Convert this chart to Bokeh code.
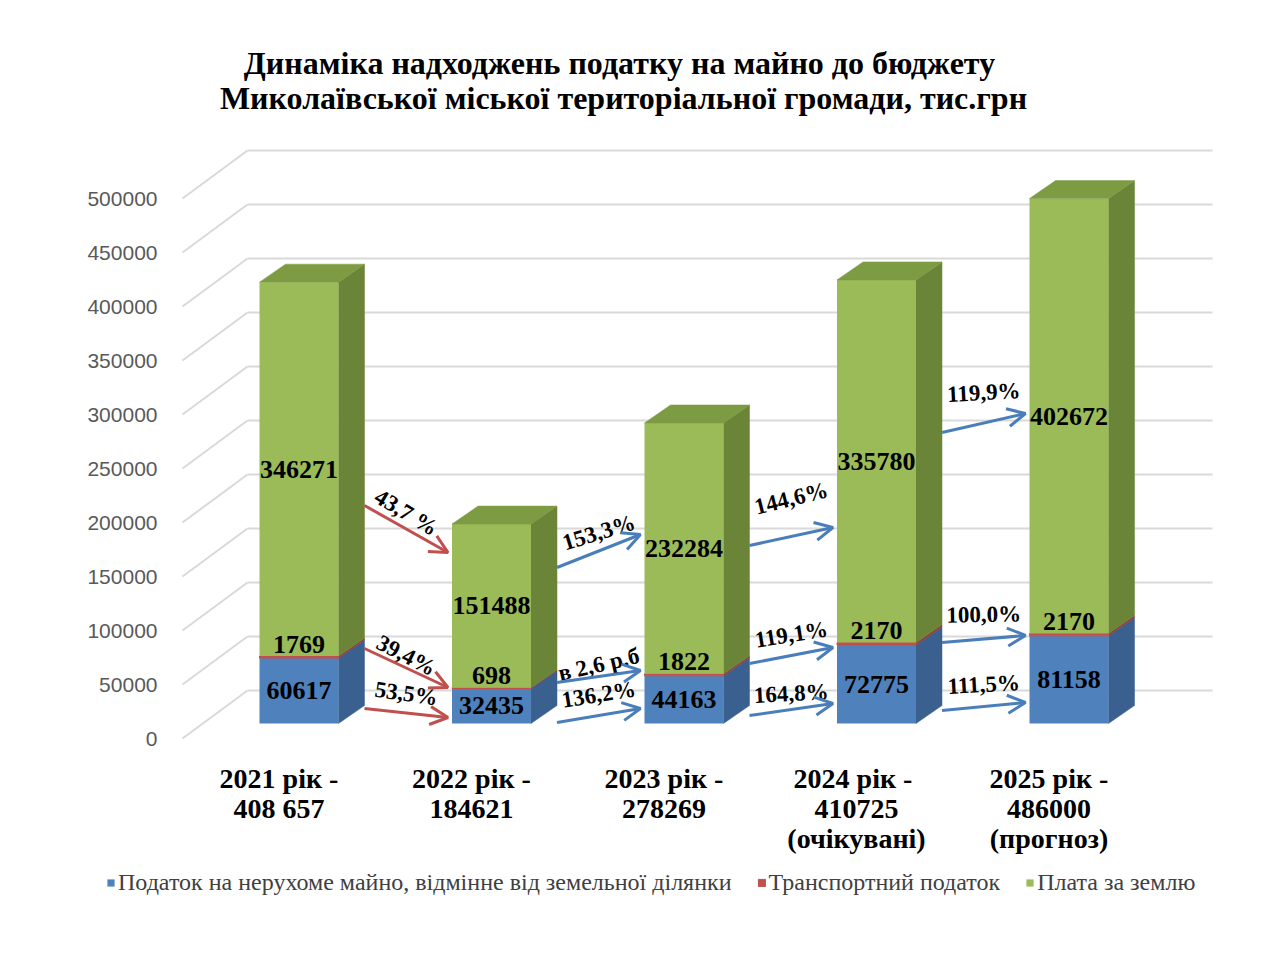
import numpy as np
from bokeh.plotting import figure
from bokeh.models import (ColumnDataSource, Range1d, FixedTicker, PrintfTickFormatter,
                          Legend, LegendItem, Arrow, OpenHead, Label)
from bokeh.core.properties import value
from bokeh.embed import file_html
from bokeh.resources import INLINE

# ---------------- data ----------------
categories = [
    "2021 рік -\n408 657",
    "2022 рік -\n184621",
    "2023 рік -\n278269",
    "2024 рік  -\n410725\n(очікувані)",
    "2025 рік -\n486000\n(прогноз)",
]
property_tax = [60617, 32435, 44163, 72775, 81158]     # Податок на нерухоме майно
transport_tax = [1769, 698, 1822, 2170, 2170]           # Транспортний податок
land_fee = [346271, 151488, 232284, 335780, 402672]     # Плата за землю
series_names = [
    "Податок на нерухоме майно, відмінне від земельної ділянки",
    "Транспортний податок",
    "Плата за землю",
]
y_ticks = [0, 50000, 100000, 150000, 200000, 250000, 300000, 350000, 400000, 450000, 500000]
title_lines = ["Динаміка надходжень податку на майно до бюджету",
               "Миколаївської міської територіальної громади, тис.грн"]

# growth annotations between neighbouring years
arrow_from = [0, 0, 0, 1, 1, 1, 2, 2, 2, 3, 3, 3]
arrow_labels = ["43,7 %", "39,4%", "53,5%", "153,3%", "в 2,6 р.б", "136,2%",
                "144,6%", "119,1%", "164,8%", "119,9%", "100,0%", "111,5%"]
arrow_kind = ["down", "down", "down", "up", "up", "up", "up", "up", "up", "up", "up", "up"]

# annotation layout (positions in axis units, angles in degrees)
arrow_y_start = [215741, 83333, 27778, 158333, 51852, 14815, 178704, 69444, 21296, 283333, 88889, 25926]
arrow_y_end = [172222, 47222, 19444, 188889, 62963, 27778, 195370, 84259, 32407, 300926, 95370, 33333]
arrow_label_y = [209259, 76852, 41667, 190741, 68519, 40741, 222222, 96296, 41667, 320370, 114815, 50000]
arrow_label_angle = [-31, -27, -8, 17, 13, 9, 14, 9, 3, 3, 1, 3]

# ---------------- geometry (pseudo-3D) ----------------
PX_X = 192.5        # pixels per category unit
PX_Y = 0.00108      # pixels per value unit


def px_x(px):
    return px / PX_X


def px_y(px):
    return px / PX_Y


FIG_W, FIG_H = 1265, 937
FRAME_L, FRAME_R, FRAME_T, FRAME_B = 90, 1265, 0, 905
CAT1_PX, ZERO_PX = 278.5, 738          # first category centre / zero line on screen

BAR_HALF = px_x(39.5)
FRONT_DX, FRONT_DY = px_x(20), px_y(15)
SIDE_DX, SIDE_DY = px_x(26), px_y(18)
WALL_DX, WALL_DY = px_x(65), px_y(48)
WALL_LEFT = 1 - px_x(96.5)
WALL_RIGHT = 1 + px_x(933.5)

x_start = 1 - px_x(CAT1_PX - FRAME_L)
x_end = x_start + px_x(FRAME_R - FRAME_L)
y_start = -px_y(FRAME_B - ZERO_PX)
y_end = y_start + px_y(FRAME_B - FRAME_T)

n = len(categories)
xc = np.arange(1, n + 1, dtype=float)
fx = xc + FRONT_DX
prop = np.array(property_tax, dtype=float)
trans = np.array(transport_tax, dtype=float)
land = np.array(land_fee, dtype=float)
total = prop + trans + land

bottoms = [np.zeros(n), prop, prop + trans]
tops = [prop, prop + trans, total]
front_colors = ["#4F81BD", "#C0504D", "#9BBB59"]
side_colors = ["#3A6090", "#953D3A", "#6B8538"]
top_color = "#7C9B43"

p = figure(width=FIG_W, height=FIG_H,
           x_range=Range1d(x_start, x_end), y_range=Range1d(y_start, y_end),
           output_backend="svg", toolbar_location=None,
           min_border_left=FRAME_L, min_border_right=FIG_W - FRAME_R,
           min_border_top=FRAME_T, min_border_bottom=FIG_H - FRAME_B)
p.outline_line_color = None
p.grid.visible = False
p.background_fill_color = "white"
p.border_fill_color = "white"

# title (two centred lines)
for line, (cx_px, cy_px) in zip(title_lines, [(619, 62), (623, 97)]):
    p.add_layout(Label(x=x_start + px_x(cx_px - FRAME_L), y=y_start + px_y(FRAME_B - cy_px),
                       text=line, text_align="center", text_baseline="middle",
                       text_font="Liberation Serif", text_font_size="32px",
                       text_font_style="bold", text_color="black"))

# walls / grid
gy = np.array(y_ticks, dtype=float)
p.segment(x0=[WALL_LEFT] * len(gy), y0=gy, x1=[WALL_LEFT + WALL_DX] * len(gy), y1=gy + WALL_DY,
          line_color="#D9D9D9", line_width=2)
p.segment(x0=[WALL_LEFT + WALL_DX] * len(gy), y0=gy + WALL_DY, x1=[WALL_RIGHT] * len(gy), y1=gy + WALL_DY,
          line_color="#D9D9D9", line_width=2)

# bars
front_renderers = []
for k in range(3):
    b = bottoms[k] + FRONT_DY
    t = tops[k] + FRONT_DY
    xr = fx + BAR_HALF
    side_xs = [[a, a + SIDE_DX, a + SIDE_DX, a] for a in xr]
    side_ys = [[bb, bb + SIDE_DY, tt + SIDE_DY, tt] for bb, tt in zip(b, t)]
    p.patches(xs=side_xs, ys=side_ys, fill_color=side_colors[k], line_color=side_colors[k], line_width=0.5)
    r = p.quad(left=fx - BAR_HALF, right=fx + BAR_HALF, bottom=b, top=t,
               fill_color=front_colors[k],
               line_color=front_colors[k] if k == 1 else None, line_width=1)
    front_renderers.append(r)

tt = total + FRONT_DY
xl = fx - BAR_HALF
xr = fx + BAR_HALF
top_xs = [[a, a + SIDE_DX, c + SIDE_DX, c] for a, c in zip(xl, xr)]
top_ys = [[v, v + SIDE_DY, v + SIDE_DY, v] for v in tt]
p.patches(xs=top_xs, ys=top_ys, fill_color=top_color, line_color=top_color, line_width=0.5)

# data labels
lab_src = ColumnDataSource(dict(
    x=np.concatenate([fx, fx, fx]),
    y=np.concatenate([prop / 2 + FRONT_DY,
                      prop + trans + FRONT_DY + px_y(12),
                      prop + trans + land / 2 + FRONT_DY]),
    text=[str(int(v)) for v in np.concatenate([prop, trans, land])],
))
p.text(x="x", y="y", text="text", source=lab_src,
       text_font=value("Liberation Serif"), text_font_style="bold",
       text_font_size="26px", text_align="center", text_baseline="middle",
       text_color="black")

# growth arrows
colors = {"down": "#C0504D", "up": "#4A7EBB"}
ax_mid = []
for i, j in enumerate(arrow_from):
    x0 = fx[j] + BAR_HALF + SIDE_DX
    x1 = fx[j + 1] - BAR_HALF - px_x(4)
    c = colors[arrow_kind[i]]
    p.add_layout(Arrow(end=OpenHead(size=18, line_color=c, line_width=3),
                       x_start=x0, y_start=arrow_y_start[i], x_end=x1, y_end=arrow_y_end[i],
                       line_color=c, line_width=3))
    ax_mid.append((x0 + x1) / 2)

pct_src = ColumnDataSource(dict(x=ax_mid, y=arrow_label_y, text=arrow_labels, angle=arrow_label_angle))
p.text(x="x", y="y", text="text", angle="angle", angle_units="deg", source=pct_src,
       text_font=value("Liberation Serif"), text_font_style="bold",
       text_font_size="23px", text_align="center", text_baseline="middle",
       text_color="black")

# axes (labels pulled in next to the pseudo-3D walls)
p.yaxis.ticker = FixedTicker(ticks=y_ticks)
p.yaxis.formatter = PrintfTickFormatter(format="%d")
p.yaxis.axis_line_color = None
p.yaxis.major_tick_line_color = None
p.yaxis.minor_tick_line_color = None
p.yaxis.major_tick_out = 0
p.yaxis.major_label_standoff = FRAME_L - 157
p.yaxis.major_label_text_font = "Liberation Sans"
p.yaxis.major_label_text_font_size = "21px"
p.yaxis.major_label_text_color = "#595959"

p.xaxis.ticker = FixedTicker(ticks=[int(v) for v in xc])
p.xaxis.major_label_overrides = {int(v): lab for v, lab in zip(xc, categories)}
p.xaxis.axis_line_color = None
p.xaxis.major_tick_line_color = None
p.xaxis.minor_tick_line_color = None
p.xaxis.major_tick_out = 0
p.xaxis.major_label_standoff = 762 - FRAME_B
p.xaxis.major_label_text_font = "Liberation Serif"
p.xaxis.major_label_text_font_style = "bold"
p.xaxis.major_label_text_font_size = "28px"
p.xaxis.major_label_text_color = "black"
p.xaxis.major_label_text_line_height = 0.97

# legend under the category labels (offset from the frame's bottom-left corner)
legend = Legend(items=[LegendItem(label=name, renderers=[r]) for name, r in zip(series_names, front_renderers)],
                orientation="horizontal", location=(106 - FRAME_L, FRAME_B - 896),
                label_text_font="Liberation Serif", label_text_font_size="24px",
                label_text_color="#404040", glyph_width=9, glyph_height=9,
                label_standoff=3, spacing=25, padding=0, margin=0,
                border_line_color=None, background_fill_alpha=0)
p.add_layout(legend)

open("out.html", "w").write(file_html(p, INLINE))
